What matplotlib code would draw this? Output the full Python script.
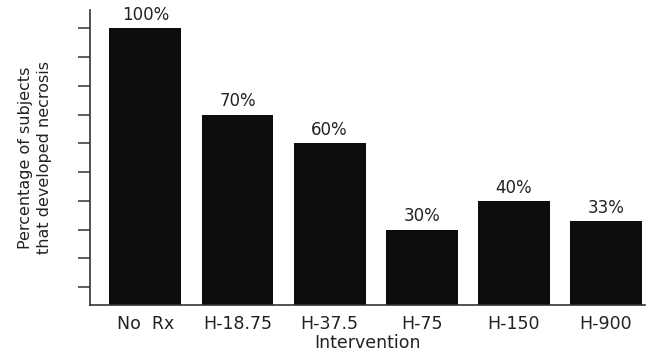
import numpy as np
import matplotlib.pyplot as plt

# data
groups = ['No  Rx', 'H-18.75', 'H-37.5', 'H-75', 'H-150', 'H-900']
pct = [100, 70, 60, 30, 40, 33]
labels = ['100%', '70%', '60%', '30%', '40%', '33%']

fig = plt.figure(figsize=(6.48, 3.56), dpi=100)
ax = fig.add_axes([0.139, 0.143, 0.856, 0.829])

x = np.arange(len(groups))
bars = ax.bar(x, pct, width=0.78, color='#0d0d0d')

for b, t in zip(bars, labels):
    ax.annotate(t, (b.get_x() + b.get_width() / 2, b.get_height()),
                xytext=(0, 3), textcoords='offset points',
                ha='center', va='bottom', fontsize=12, color='#222')

ax.set_xlim(-0.6, 5.42)
ax.set_ylim(3.7, 106.4)
ax.set_yticks(np.arange(10, 101, 10))
ax.set_yticklabels([])
ax.set_xticks(x)
ax.set_xticklabels(groups, fontsize=12.5, color='#222')
ax.tick_params(axis='x', length=0, pad=7)
ax.tick_params(axis='y', direction='out', length=9, width=1.1, color='#333')

for s in ['top', 'right']:
    ax.spines[s].set_visible(False)
for s in ['left', 'bottom']:
    ax.spines[s].set_linewidth(1.2)
    ax.spines[s].set_color('#333')

ax.set_xlabel('Intervention', fontsize=12.5, color='#222', labelpad=1)
ax.set_ylabel('Percentage of subjects\nthat developed necrosis',
              fontsize=11.5, color='#222', labelpad=15, linespacing=1.3)

fig.savefig('out.png', dpi=100)
